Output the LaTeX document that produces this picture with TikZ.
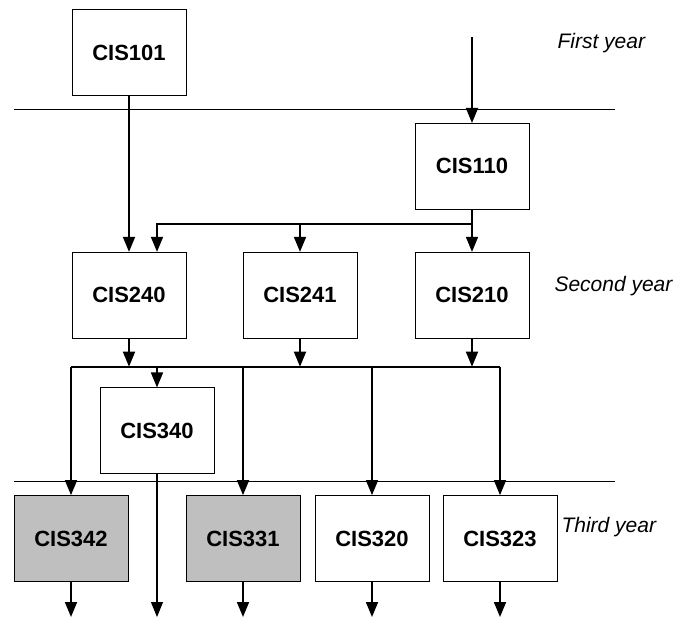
\documentclass[tikz,border=0pt]{standalone}
\usepackage{fontspec}
\setmainfont{Liberation Sans}
\usetikzlibrary{arrows.meta, calc}

\begin{document}
\begin{tikzpicture}[x=1pt, y=-1pt,
  course/.style={draw, line width=0.7pt, minimum width=114pt, minimum height=86pt,
    inner sep=0pt, font=\fontsize{22}{26}\selectfont\bfseries},
  taken/.style={course, fill=black!25},
  arr/.style={line width=1.7pt, -{Triangle[length=15pt, width=12pt]}},
  bus/.style={line width=1.7pt},
  year/.style={anchor=west, font=\fontsize{21}{25}\selectfont\itshape},
  sep/.style={line width=0.7pt}]
\useasboundingbox (0,0) rectangle (677,624);

% lineas de separacion de anos
\draw[sep] (14,109) -- (615,109);
\draw[sep] (14,481) -- (615,481);
\node[year] (y1) at (554,43) {First year};
\node[year] (y2) at (551,286) {Second year};
\node[year] (y3) at (558,527) {Third year};

% primer ano
\node[course] (c101) at (129,52.5) {CIS101};
\node[course] (c110) at (472,166.3) {CIS110};
\coordinate (in) at (472,37);

% segundo ano
\node[course] (c240) at (129,295.2) {CIS240};
\node[course] (c241) at (300,295.2) {CIS241};
\node[course] (c210) at (472,295.2) {CIS210};

% tercer ano
\node[course] (c340) at (157,430.8) {CIS340};
\node[taken] (c342) at (71,538.5) {CIS342};
\node[taken] (c331) at (243,538.5) {CIS331};
\node[course] (c320) at (372,538.5) {CIS320};
\node[course] (c323) at (500,538.5) {CIS323};

% puntos auxiliares
\coordinate (split) at (472,224);
\coordinate (c240b) at ($(c240.north)+(28,0)$);
\coordinate (bus) at (0,366.7);
\coordinate (out) at (0,617);

% flechas de arriba
\draw[arr] (in) -- (c110);
\draw[arr] (c101) -- (c240);
\draw[bus] (c110.south) -- (split);
\draw[arr] (split) -| (c240b);
\draw[arr] (split) -| (c241);
\draw[arr] (split) -- (c210);

% barra comun
\draw[bus] (c342 |- bus) -- (c323 |- bus);
\draw[arr] (c240) -- (c240 |- bus);
\draw[arr] (c241) -- (c241 |- bus);
\draw[arr] (c210) -- (c210 |- bus);
\draw[arr] (c340 |- bus) -- (c340);
\draw[arr] (c342 |- bus) -- (c342);
\draw[arr] (c331 |- bus) -- (c331);
\draw[arr] (c320 |- bus) -- (c320);
\draw[arr] (c323 |- bus) -- (c323);

% salidas
\draw[arr, line width=1.1pt] (c340) -- (c340 |- out);
\draw[arr] (c342) -- (c342 |- out);
\draw[arr] (c331) -- (c331 |- out);
\draw[arr] (c320) -- (c320 |- out);
\draw[arr] (c323) -- (c323 |- out);
\end{tikzpicture}
\end{document}
